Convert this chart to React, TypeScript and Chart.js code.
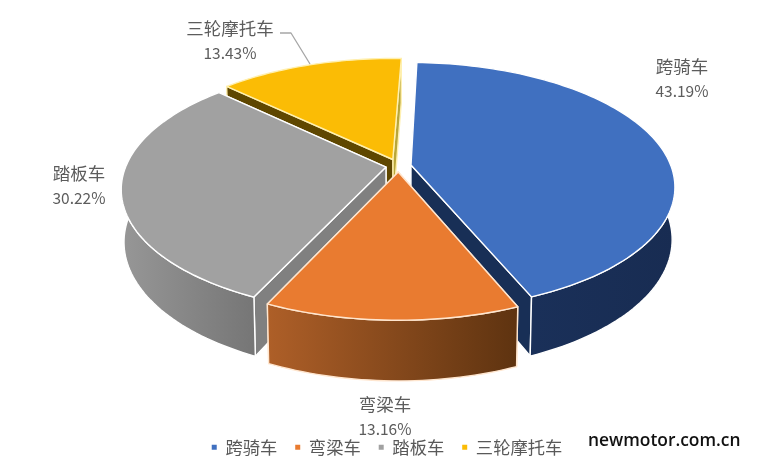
import React, { useEffect, useRef } from "react";
import { Chart, registerables } from "chart.js";

Chart.register(...registerables);

const categories = ["跨骑车", "弯梁车", "踏板车", "三轮摩托车"];
const shares = [43.19, 13.16, 30.22, 13.43];
const topColors = ["#4070C0", "#E97B30", "#A1A1A1", "#FBBC05"];
const edgeColors = ["#FFFFFF", "#FFE6CF", "#FFFFFF", "#FFF0B0"];
const startWallColors = ["#182F56", "#7A4215", "#808080", "#5F4700"];
const endWallColors = ["#182F56", "#7A4215", "#808080", "#B8A63A"];
const outerWallStart = ["#1A3059", "#AE5F28", "#979797", "#5F4700"];
const outerWallEnd = ["#182C52", "#5E3310", "#767676", "#5F4700"];
const explode = [10, 10, 10, 12];

const view = { cx: 398.5, cy: 166, rx: 260, ry: 120.5, persp: 0.172, depth: 51, shrink: 0.99 };
const labelCenters = [
  [682, 66],
  [385, 404],
  [79, 173],
  [230, 28],
];
const labelGap = 25.5;
const leader = [
  [280, 33],
  [291, 33],
  [310, 64],
];
const FONT = '"Noto Sans CJK SC", "Noto Sans", sans-serif';

function project(u: number, v: number, bottom: boolean) {
  const s = 1 / (1 - view.persp * v);
  const f = bottom ? view.shrink : 1;
  return [
    view.cx + view.rx * u * s * f,
    view.cy + view.ry * v * s * f + (bottom ? view.depth * s : 0),
  ];
}

function path(ctx: CanvasRenderingContext2D, pts: number[][]) {
  ctx.beginPath();
  pts.forEach((p, i) => (i ? ctx.lineTo(p[0], p[1]) : ctx.moveTo(p[0], p[1])));
  ctx.closePath();
}

const pie3d = {
  id: "pie3d",
  beforeDatasetsDraw(chart: any) {
    const ctx: CanvasRenderingContext2D = chart.ctx;
    const arcs = chart.getDatasetMeta(0).data;
    const slices = arcs.map((arc: any, i: number) => {
      const mid = (arc.startAngle + arc.endAngle) / 2;
      const d = arc.options.offset / arc.outerRadius;
      const ox = d * Math.cos(mid);
      const oy = d * Math.sin(mid);
      const rim: { a: number; u: number; v: number }[] = [];
      const n = Math.max(2, Math.ceil((arc.endAngle - arc.startAngle) / 0.025));
      for (let k = 0; k <= n; k++) {
        const a = arc.startAngle + ((arc.endAngle - arc.startAngle) * k) / n;
        rim.push({ a, u: ox + Math.cos(a), v: oy + Math.sin(a) });
      }
      return { i, mid, ox, oy, rim };
    });
    slices.sort((a: any, b: any) => Math.sin(a.mid) - Math.sin(b.mid));
    ctx.save();
    ctx.lineJoin = "round";
    for (const sl of slices) {
      const { i, ox, oy, rim } = sl;
      const apexT = project(ox, oy, false);
      const apexB = project(ox, oy, true);
      const topRim = rim.map((p: any) => project(p.u, p.v, false));
      ctx.strokeStyle = edgeColors[i];
      ctx.lineWidth = 1.4;
      const ends = [
        { p: rim[0], color: startWallColors[i] },
        { p: rim[rim.length - 1], color: endWallColors[i] },
      ].sort((a, b) => a.p.v - b.p.v);
      for (const w of ends) {
        path(ctx, [apexT, project(w.p.u, w.p.v, false), project(w.p.u, w.p.v, true), apexB]);
        ctx.fillStyle = w.color;
        ctx.fill();
        ctx.stroke();
      }
      const front = rim.filter((p: any) => Math.sin(p.a) > -0.03);
      if (front.length > 1) {
        const t = front.map((p: any) => project(p.u, p.v, false));
        const b = front.map((p: any) => project(p.u, p.v, true));
        const xs = t.map((p: number[]) => p[0]);
        const g = ctx.createLinearGradient(Math.min(...xs), 0, Math.max(...xs), 0);
        g.addColorStop(0, outerWallStart[i]);
        g.addColorStop(1, outerWallEnd[i]);
        path(ctx, [...t, ...b.slice().reverse()]);
        ctx.fillStyle = g;
        ctx.fill();
        ctx.stroke();
      }
      path(ctx, [apexT, ...topRim]);
      ctx.fillStyle = topColors[i];
      ctx.fill();
      ctx.stroke();
    }
    ctx.fillStyle = "#5C5C5C";
    ctx.textAlign = "center";
    ctx.textBaseline = "middle";
    categories.forEach((name, i) => {
      const [x, y] = labelCenters[i];
      ctx.font = `17.5px ${FONT}`;
      ctx.fillText(name, x, y);
      ctx.font = `15.5px ${FONT}`;
      ctx.fillText(`${shares[i].toFixed(2)}%`, x, y + labelGap);
    });
    ctx.strokeStyle = "#A6A6A6";
    ctx.lineWidth = 1.3;
    ctx.beginPath();
    leader.forEach((p, i) => (i ? ctx.lineTo(p[0], p[1]) : ctx.moveTo(p[0], p[1])));
    ctx.stroke();
    ctx.fillStyle = "#111111";
    ctx.font = `600 17.4px "Open Sans", sans-serif`;
    ctx.textAlign = "left";
    ctx.fillText("newmotor.com.cn", 588, 441);
    ctx.restore();
    return false;
  },
};

export default function App() {
  const ref = useRef<HTMLCanvasElement>(null);
  useEffect(() => {
    const chart = new Chart(ref.current!, {
      type: "pie",
      data: {
        labels: categories,
        datasets: [
          {
            data: shares,
            backgroundColor: topColors,
            borderWidth: 0,
            offset: explode,
          },
        ],
      },
      options: {
        responsive: false,
        animation: false,
        rotation: 2,
        layout: { padding: { left: 14, bottom: -3 } },
        plugins: {
          tooltip: { enabled: false },
          legend: {
            position: "bottom",
            labels: {
              boxWidth: 5,
              boxHeight: 5,
              padding: 18,
              color: "#595959",
              font: { family: FONT, size: 17.3 },
            },
          },
        },
      },
      plugins: [pie3d],
    } as any);
    return () => chart.destroy();
  }, []);
  return (
    <div style={{ position: "fixed", left: 0, top: 0, width: 760, height: 463, background: "#fff" }}>
      <canvas ref={ref} width={760} height={463} style={{ display: "block" }} />
    </div>
  );
}
